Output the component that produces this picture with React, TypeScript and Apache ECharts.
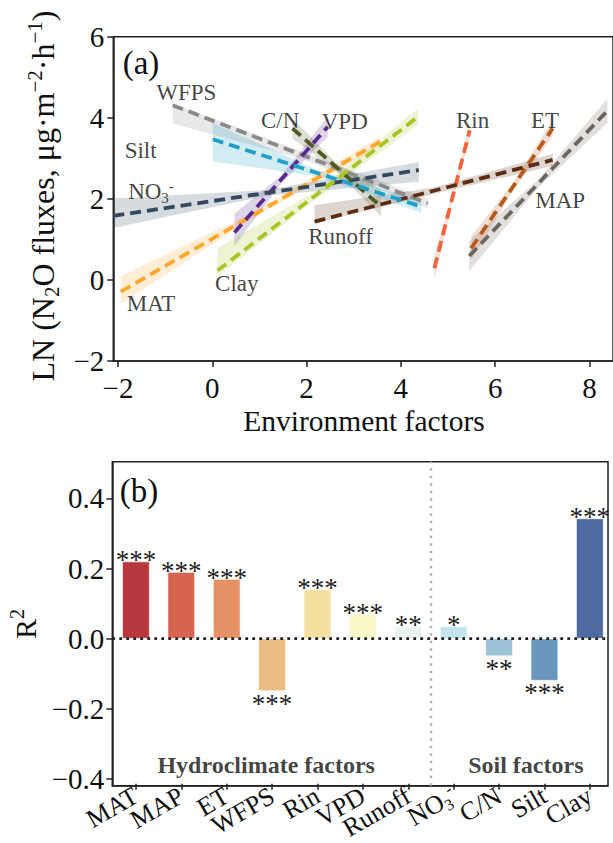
import React, { useEffect, useRef } from 'react';
import * as echarts from 'echarts';

// ---------- Panel (a): fitted lines ----------
const factorNames = ['MAT', 'MAP', 'ET', 'WFPS', 'Rin', 'VPD', 'Runoff', 'NO3', 'C/N', 'Silt', 'Clay'];
const lineX0 = [-1.94, 5.45, 5.49, -0.84, 4.71, 0.47, 2.17, -2.1, 1.7, 0.01, 0.11];
const lineY0 = [-0.29, 0.59, 0.78, 4.31, 0.29, 1.17, 1.44, 1.58, 3.74, 3.47, 0.23];
const lineX1 = [3.56, 8.38, 7.22, 4.57, 5.46, 2.45, 7.22, 4.38, 3.58, 4.43, 4.36];
const lineY1 = [3.41, 4.17, 3.74, 1.89, 3.69, 3.78, 2.96, 2.71, 1.81, 1.81, 4.02];
// confidence band offsets (upper / lower) at start, middle, end of each line
const bandUpStart = [0.38, 0.37, 0.3, 0.04, 0.3, 0.47, 0.4, 0.43, 0.25, 0.4, 0.55];
const bandLoStart = [0.3, 0.37, 0.3, 0.45, 0.3, 0.34, 0.05, 0.3, 0.25, 0.55, 0.15];
const bandUpMid = [0.07, 0.1, 0.1, 0.08, 0.1, 0.1, 0.08, 0.07, 0.1, 0.08, 0.1];
const bandLoMid = [0.07, 0.1, 0.1, 0.1, 0.1, 0.1, 0.08, 0.07, 0.1, 0.08, 0.1];
const bandUpEnd = [0.12, 0.3, 0.2, 0.12, 0.2, 0.25, 0.15, 0.2, 0.41, 0.15, 0.2];
const bandLoEnd = [0.12, 0.3, 0.2, 0.12, 0.2, 0.25, 0.15, 0.29, 0.25, 0.15, 0.2];
const lineColors = ['#ffa62b', '#6e655d', '#b85a1c', '#8a8a8a', '#f5633a', '#5b2a8e', '#5b2c12', '#34495e', '#4e5a22', '#20a0c8', '#a8c425'];
// label anchors for panel (a)
const labelX = [-1.3, 7.38, 7.06, -0.55, 5.52, 2.81, 2.72, -1.3, 1.44, -1.52, 0.52];
const labelY = [-0.59, 1.95, 3.94, 4.62, 3.93, 3.9, 1.06, 2.18, 3.93, 3.2, -0.1];
const xTicksA = [-2, 0, 2, 4, 6, 8];

// ---------- Panel (b): R2 bars ----------
const barValues = [0.22, 0.19, 0.17, -0.15, 0.14, 0.07, 0.035, 0.035, -0.05, -0.12, 0.343];
const barStars = ['***', '***', '***', '***', '***', '***', '**', '*', '**', '***', '***'];
const barColors = ['#b8393d', '#d6644f', '#e69166', '#ecbd82', '#f3df9f', '#f9f8c9', '#e9f4ef', '#c5e3ec', '#9cc3d7', '#6995bf', '#4e6aa1'];
const yTicksB = [-0.4, -0.2, 0, 0.2, 0.4];
const groupNames = ['Hydroclimate factors', 'Soil factors'];
const groupX = [2.87, 8.59];
const groupY = [-0.362, -0.362];
const dividerX = 6.5;

const FONT = "'Liberation Serif', 'Times New Roman', serif";

const minusFmt = (v: number, digits: number) => {
  const s = Math.abs(v).toFixed(digits);
  return v < -1e-9 ? '\u2212' + s : s;
};

const subSup = {
  sb: { fontSize: 16, verticalAlign: 'bottom', lineHeight: 16, fontFamily: FONT, color: '#111' },
  sp: { fontSize: 16, verticalAlign: 'top', lineHeight: 16, fontFamily: FONT, color: '#111' },
};

export default function App() {
  const ref = useRef<HTMLDivElement>(null);
  useEffect(() => {
    if (!ref.current) return;
    const chart = echarts.init(ref.current, null, { renderer: 'svg' });

    const bandData = factorNames.map((_, i) => {
      const xm = (lineX0[i] + lineX1[i]) / 2;
      const ym = (lineY0[i] + lineY1[i]) / 2;
      return [
        lineX0[i], lineY0[i] + bandUpStart[i], lineY0[i] - bandLoStart[i],
        xm, ym + bandUpMid[i], ym - bandLoMid[i],
        lineX1[i], lineY1[i] + bandUpEnd[i], lineY1[i] - bandLoEnd[i],
        i,
      ];
    });

    const lineSeries = factorNames.map((name, i) => ({
      type: 'line',
      name,
      xAxisIndex: 0,
      yAxisIndex: 0,
      data: [[lineX0[i], lineY0[i]], [lineX1[i], lineY1[i]]],
      showSymbol: false,
      symbol: 'none',
      silent: true,
      z: 4,
      lineStyle: { color: lineColors[i], width: 3.8, type: [11, 6] },
    }));

    const axisLineStyle = { color: '#222', width: 1.5 };
    const tickLabelStyle = { fontSize: 29, color: '#111', fontFamily: FONT };

    const option: any = {
      animation: false,
      backgroundColor: '#fff',
      grid: [
        { left: 113.3, top: 36.7, width: 500.5, height: 324.3, show: true, borderColor: '#222', borderWidth: 1.5, backgroundColor: 'transparent' },
        { left: 112.3, top: 461.7, width: 495.7, height: 324, show: true, borderColor: '#222', borderWidth: 1.5, backgroundColor: 'transparent' },
        { left: 113.3, top: 461.7, width: 499.4, height: 324, show: false },
      ],
      xAxis: [
        {
          gridIndex: 0, type: 'value', min: -2.1, max: 8.5,
          axisLine: { show: true, onZero: false, lineStyle: axisLineStyle },
          axisTick: { show: true, length: 6, customValues: xTicksA, lineStyle: axisLineStyle },
          axisLabel: { ...tickLabelStyle, margin: 12, customValues: xTicksA, formatter: (v: number) => minusFmt(v, 0) },
          splitLine: { show: false },
        },
        {
          gridIndex: 1, type: 'value', min: -0.52, max: 10.4,
          axisLine: { show: true, onZero: false, lineStyle: axisLineStyle },
          axisTick: { show: false },
          axisLabel: { show: false },
          splitLine: { show: false },
        },
        {
          gridIndex: 2, type: 'category', data: factorNames,
          axisLine: { show: false, onZero: false },
          axisTick: { show: true, length: 6, alignWithLabel: true, interval: 0, lineStyle: axisLineStyle },
          axisLabel: {
            interval: 0, fontSize: 26, color: '#111', fontFamily: FONT, rotate: 30, margin: 10,
            formatter: (n: string) => (n === 'NO3' ? '{b|NO}{sb|3}{sp|-}' : n),
            rich: {
              b: { fontSize: 26, fontFamily: FONT, color: '#111', lineHeight: 30 },
              ...subSup,
            },
          },
          splitLine: { show: false },
        },
      ],
      yAxis: [
        {
          gridIndex: 0, type: 'value', min: -2, max: 6, interval: 2,
          axisLine: { show: true, onZero: false, lineStyle: axisLineStyle },
          axisTick: { show: true, length: 6, lineStyle: axisLineStyle },
          axisLabel: { ...tickLabelStyle, margin: 9, formatter: (v: number) => minusFmt(v, 0) },
          splitLine: { show: false },
        },
        {
          gridIndex: 1, type: 'value', min: -0.42, max: 0.505,
          axisLine: { show: true, onZero: false, lineStyle: axisLineStyle },
          axisTick: { show: true, length: 6, customValues: yTicksB, lineStyle: axisLineStyle },
          axisLabel: { ...tickLabelStyle, margin: 8, customValues: yTicksB, formatter: (v: number) => minusFmt(v, 1) },
          splitLine: { show: false },
        },
        {
          gridIndex: 2, type: 'value', min: -0.42, max: 0.505, show: false,
        },
      ],
      series: [
        {
          type: 'custom',
          xAxisIndex: 0,
          yAxisIndex: 0,
          silent: true,
          clip: true,
          z: 2,
          data: bandData,
          renderItem: (params: any, api: any) => {
            const v = (k: number) => api.value(k);
            const pts = [
              api.coord([v(0), v(1)]), api.coord([v(3), v(4)]), api.coord([v(6), v(7)]),
              api.coord([v(6), v(8)]), api.coord([v(3), v(5)]), api.coord([v(0), v(2)]),
            ];
            const idx = v(9);
            return {
              type: 'polygon',
              shape: { points: pts },
              style: { fill: lineColors[idx], opacity: 0.2 },
            };
          },
        },
        ...lineSeries,
        {
          type: 'scatter',
          xAxisIndex: 0,
          yAxisIndex: 0,
          symbolSize: 0,
          silent: true,
          z: 6,
          data: factorNames.map((n, i) => ({ value: [labelX[i], labelY[i]], name: n })),
          label: {
            show: true,
            position: 'inside',
            fontSize: 23,
            fontFamily: FONT,
            color: '#111',
            formatter: (p: any) => (p.name === 'NO3' ? '{b|NO}{sb|3}{sp|-}' : p.name),
            rich: {
              b: { fontSize: 23, fontFamily: FONT, color: '#111', lineHeight: 27 },
              sb: { fontSize: 15, verticalAlign: 'bottom', lineHeight: 15, fontFamily: FONT, color: '#111' },
              sp: { fontSize: 15, verticalAlign: 'top', lineHeight: 15, fontFamily: FONT, color: '#111' },
            },
          },
        },
        {
          type: 'bar',
          xAxisIndex: 1,
          yAxisIndex: 1,
          barWidth: 27.4,
          silent: true,
          z: 2,
          data: barValues.map((v, i) => ({
            value: [i, v],
            itemStyle: { color: barColors[i], borderColor: '#fff', borderWidth: 0.6 },
            label: {
              show: true,
              position: v >= 0 ? 'top' : 'bottom',
              distance: v >= 0 ? -12 : -1,
              formatter: barStars[i],
              fontSize: 27,
              fontFamily: FONT,
              color: '#222',
            },
          })),
        },
        {
          type: 'line',
          xAxisIndex: 1,
          yAxisIndex: 1,
          silent: true,
          symbol: 'none',
          z: 5,
          data: [[-0.52, 0], [10.4, 0]],
          lineStyle: { color: '#222', width: 2.8, type: [2.8, 4.2] },
        },
        {
          type: 'line',
          xAxisIndex: 1,
          yAxisIndex: 1,
          silent: true,
          symbol: 'none',
          z: 1,
          data: [[dividerX, -0.42], [dividerX, 0.505]],
          lineStyle: { color: '#b4b4b4', width: 2.5, type: [2.5, 5] },
        },
        {
          type: 'scatter',
          xAxisIndex: 1,
          yAxisIndex: 1,
          symbolSize: 0,
          silent: true,
          z: 6,
          data: groupNames.map((n, i) => ({ value: [groupX[i], groupY[i]], name: n })),
          label: {
            show: true,
            position: 'inside',
            formatter: '{b}',
            fontSize: 24,
            fontWeight: 'bold',
            fontFamily: FONT,
            color: '#111',
          },
        },
      ],
      graphic: [
        {
          type: 'text', x: 43, y: 196, rotation: Math.PI / 2, silent: true,
          style: {
            text: 'LN (N{sb|2}O fluxes, \u03bcg\u00b7m{sp|\u22122}\u00b7h{sp|\u22121})',
            fontSize: 32, fontFamily: FONT, fill: '#111', align: 'center', verticalAlign: 'middle',
            lineHeight: 38,
            rich: {
              sb: { fontSize: 21, verticalAlign: 'bottom', lineHeight: 21, fontFamily: FONT, fill: '#111' },
              sp: { fontSize: 21, verticalAlign: 'top', lineHeight: 21, fontFamily: FONT, fill: '#111' },
            },
          },
        },
        {
          type: 'text', x: 364, y: 421, silent: true,
          style: { text: 'Environment factors', fontSize: 29.5, fontFamily: FONT, fill: '#111', align: 'center', verticalAlign: 'middle' },
        },
        {
          type: 'text', x: 25, y: 624, rotation: Math.PI / 2, silent: true,
          style: {
            text: 'R{sp|2}', fontSize: 30, fontFamily: FONT, fill: '#111', align: 'center', verticalAlign: 'middle', lineHeight: 36,
            rich: { sp: { fontSize: 20, verticalAlign: 'top', lineHeight: 20, fontFamily: FONT, fill: '#111' } },
          },
        },
        {
          type: 'text', x: 141, y: 63, silent: true,
          style: { text: '(a)', fontSize: 33, fontFamily: FONT, fill: '#111', align: 'center', verticalAlign: 'middle' },
        },
        {
          type: 'text', x: 139, y: 491, silent: true,
          style: { text: '(b)', fontSize: 33, fontFamily: FONT, fill: '#111', align: 'center', verticalAlign: 'middle' },
        },
      ],
    };

    chart.setOption(option);
    return () => chart.dispose();
  }, []);

  return <div ref={ref} style={{ position: 'absolute', left: 0, top: 0, width: 613, height: 843 }} />;
}
